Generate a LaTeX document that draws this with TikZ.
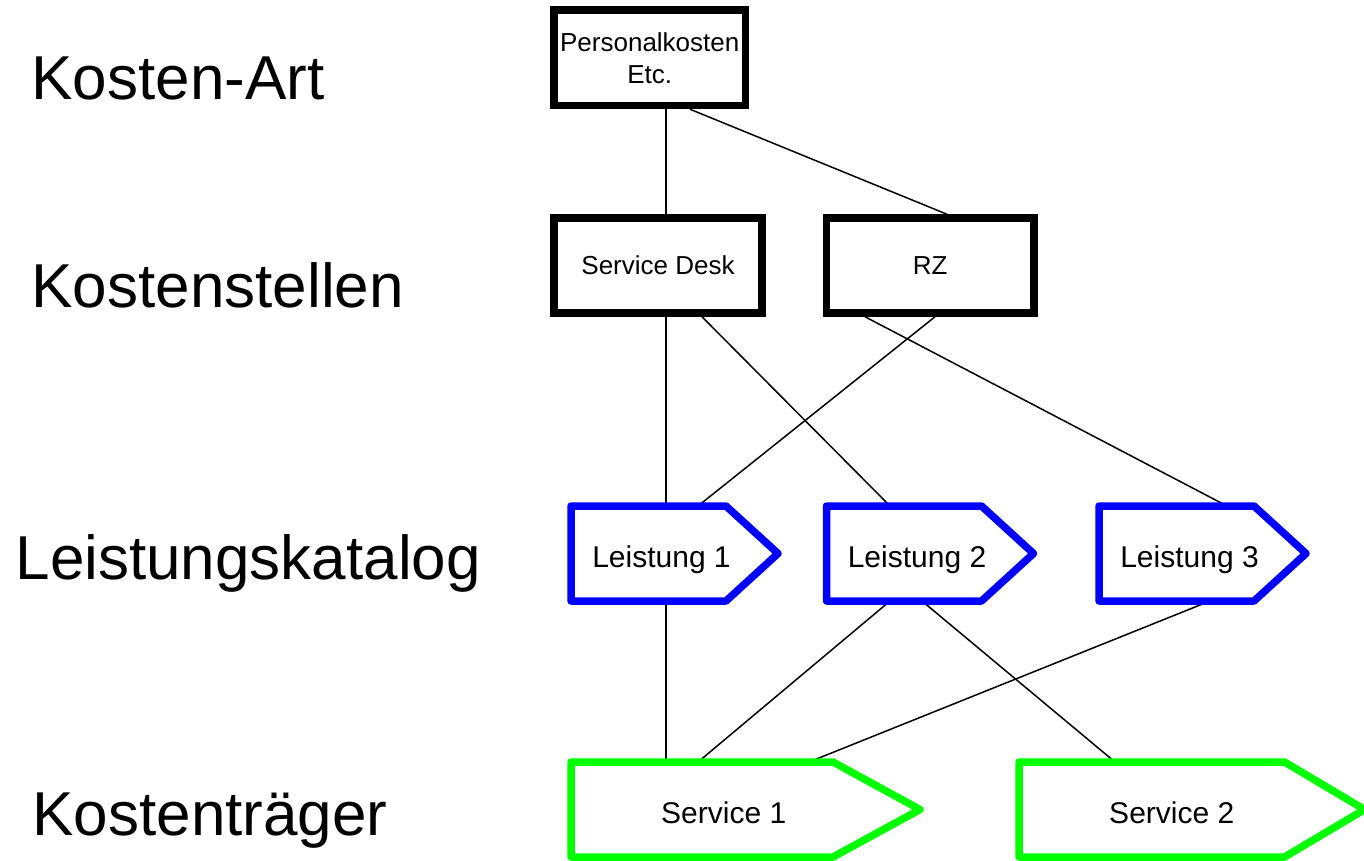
\documentclass[tikz,border=0pt]{standalone}
\usepackage{fontspec}
\setmainfont{Liberation Sans}
\usetikzlibrary{calc}

\definecolor{lblue}{RGB}{0,0,255}
\definecolor{lgreen}{RGB}{0,255,0}

\tikzset{every picture/.style={line width=1.5pt}}
\tikzset{
  ebene/.style={anchor=base west, font=\fontsize{62}{74}\selectfont},
  kasten/.style={draw, line width=7.5pt, inner sep=2pt, align=center, minimum height=95pt, font=\fontsize{26}{32}\selectfont},
  leistung/.style={inner sep=0pt, outer sep=0pt, minimum width=181pt, minimum height=95pt, text height=27pt, text depth=0pt, font=\fontsize{30}{36}\selectfont},
  service/.style={leistung, minimum width=305.5pt},
  pfeilrand/.style={line width=7.5pt, line join=round}
}

\begin{document}
\begin{tikzpicture}[x=1pt,y=1pt,yscale=-1,xscale=1]
    \useasboundingbox (0,0) rectangle (1364,860);

    % Text Node
    \node[ebene] (kart) at (27.5,99) {Kosten-Art};
    % Text Node
    \node[ebene] (kst) at (27.5,307) {Kostenstellen};
    % Text Node
    \node[ebene] (lkat) at (11.5,579) {Leistungskatalog};
    % Text Node
    \node[ebene] (ktr) at (28.5,835) {Kostenträger};

    %Shape: Rectangle
    \node[kasten, minimum width=191.5pt, minimum height=95.5pt] (pk) at (649.75,57.75) {Personalkosten\\Etc.};
    %Shape: Rectangle
    \node[kasten, minimum width=208pt] (sd) at (658,265.5) {Service Desk};
    %Shape: Rectangle
    \node[kasten, minimum width=207.5pt] (rz) at (930.25,265.5) {RZ};

    %Shape: Pentagon
    \node[leistung] (l1) at (661.5,553.5) {Leistung 1};
    \node[leistung] (l2) at (917,553.5) {Leistung 2};
    \node[leistung] (l3) at (1189.5,553.5) {Leistung 3};
    \node[service] (s1) at (723.75,809.5) {Service 1};
    \node[service] (s2) at (1171.75,809.5) {Service 2};

    %Straight Lines
    \draw ($(pk.south)+(16.25,0)$) -- ($(sd.north)+(8,0)$);
    \draw ($(pk.south)+(40.25,0)$) -- ($(rz.north)+(16.75,0)$);
    \draw ($(sd.south)+(8,0)$) -- ($(l1.north)+(4.5,0)$);
    \draw ($(sd.south)+(44,0)$) -- ($(l2.north)+(-27,0)$);
    \draw ($(rz.south)+(4.75,0)$) -- ($(l1.north)+(36.5,0)$);
    \draw ($(rz.south)+(-65.25,0)$) -- ($(l3.north)+(37.5,0)$);
    \draw ($(l1.south)+(4.5,0)$) -- ($(s1.north)+(-57.75,0)$);
    \draw ($(l2.south)+(-27,0)$) -- ($(s1.north)+(-25.75,0)$);
    \draw ($(l2.south)+(5,0)$) -- ($(s2.north)+(-56.75,0)$);
    \draw ($(l3.south)+(20.5,0)$) -- ($(s1.north)+(85.25,0)$);

    %Shape: Pentagon outline
    \foreach \n in {l1,l2,l3}
      \draw[pfeilrand, draw=lblue] (\n.north west) -- ($(\n.north east)+(-26,0)$) -- ($(\n.east)+(26,0)$) -- ($(\n.south east)+(-26,0)$) -- (\n.south west) -- cycle;
    \foreach \n/\d in {s1/43.5,s2/40}
      \draw[pfeilrand, draw=lgreen] (\n.north west) -- ($(\n.north east)+(-\d,0)$) -- ($(\n.east)+(\d,0)$) -- ($(\n.south east)+(-\d,0)$) -- (\n.south west) -- cycle;
\end{tikzpicture}
\end{document}
